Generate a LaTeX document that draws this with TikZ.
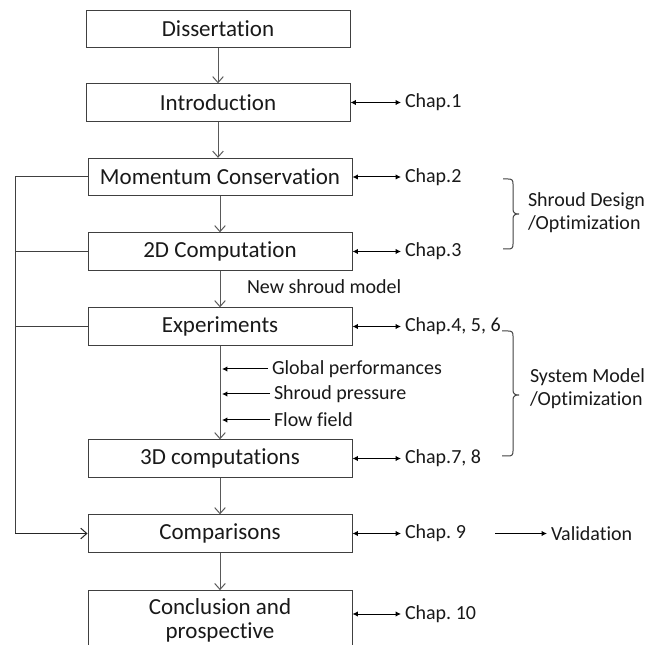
\documentclass[tikz,border=0pt]{standalone}
\usepackage{fontspec}
\setmainfont{Carlito}[Ligatures={NoCommon}]
\usetikzlibrary{arrows.meta}
\frenchspacing
\begin{document}
\begin{tikzpicture}[x=0.75pt,y=-0.75pt,
  box/.style={draw=black!75, line width=0.75pt, minimum width=198pt, minimum height=28pt, inner sep=0pt, font=\fontsize{17.25}{18}\selectfont, text=black!90},
  lbl/.style={font=\fontsize{15}{17.25}\selectfont, inner sep=0pt, outer sep=3pt, anchor=west, text=black!90},
  flow/.style={draw=black!65, line width=0.75pt, -{Straight Barb[length=4.5pt,width=8pt]}},
  dbl/.style={draw=black, line width=0.75pt, {Latex[length=4pt,width=4pt]}-{Latex[length=4pt,width=4pt]}},
  side/.style={draw=black, line width=0.75pt, -{Latex[length=4pt,width=4pt]}},
  feed/.style={draw=black!75, line width=0.75pt},
  brace/.style={draw=black!75, line width=0.75pt}
]
\useasboundingbox (0,0) rectangle (647,645);
\clip (0,0) rectangle (647,645);

% boxes
\node[box] (dis) at (218,29) {Dissertation};
\node[box] (intro) at (218,102.5) {Introduction};
\node[box] (mom) at (220,177) {Momentum Conservation};
\node[box] (c2d) at (220,251.5) {2D Computation};
\node[box] (exp) at (220,326.5) {Experiments};
\node[box] (c3d) at (220,458.5) {3D computations};
\node[box] (cmp) at (220,533.5) {Comparisons};
\node[box, minimum height=44pt, align=center] (con) at (220,620) {Conclusion and\\prospective};

% main flow
\draw[flow] (dis.south) -- (dis.south |- intro.north);
\draw[flow] (intro.south) -- (intro.south |- mom.north);
\draw[flow] (mom.south) -- (c2d.north);
\draw[flow] (c2d.south) -- (exp.north);
\draw[flow] (exp.south) -- (c3d.north);
\draw[flow] (c3d.south) -- (cmp.north);
\draw[flow] (cmp.south) -- (con.north);

\node[lbl] (nsm) at (243,287) {New shroud model};

% side inputs
\node[lbl] (gp) at (268,369) {Global performances};
\node[lbl] (sp) at (270,394) {Shroud pressure};
\node[lbl] (ff) at (270,420) {Flow field};
\coordinate (gpe) at (222,369);
\coordinate (spe) at (222,394);
\coordinate (ffe) at (222,420);
\draw[side] (gp.west) -- (gpe);
\draw[side] (sp.west) -- (spe);
\draw[side] (ff.west) -- (ffe);

% chapter labels
\node[lbl] (ch1) at (401,102.5) {Chap.1};
\node[lbl] (ch2) at (401,177) {Chap.2};
\node[lbl] (ch3) at (401,251.5) {Chap.3};
\node[lbl] (ch4) at (401,326.5) {Chap.4, 5, 6};
\node[lbl] (ch7) at (401,458.5) {Chap.7, 8};
\node[lbl] (ch9) at (401,533.5) {Chap. 9};
\node[lbl] (ch10) at (401,614) {Chap. 10};
\draw[dbl] (intro.east) -- (intro.east -| ch1.west);
\draw[dbl] (mom.east) -- (mom.east -| ch2.west);
\draw[dbl] (c2d.east) -- (c2d.east -| ch3.west);
\draw[dbl] (exp.east) -- (exp.east -| ch4.west);
\draw[dbl] (c3d.east) -- (c3d.east -| ch7.west);
\draw[dbl] (cmp.east) -- (cmp.east -| ch9.west);
\draw[dbl] (con.east |- ch10.west) -- (ch10.west);

% validation
\node[lbl] (val) at (547,533.5) {Validation};
\coordinate (vs) at (495,533.5);
\draw[side] (vs) -- (val.west);

% feedback
\coordinate (fbt) at (15,177);
\coordinate (fbb) at (15,533.5);
\draw[feed] (mom.west) -- (fbt) -- (fbb);
\draw[feed] (c2d.west) -- (c2d.west -| fbt);
\draw[feed] (exp.west) -- (exp.west -| fbt);
\draw[flow, draw=black!85] (fbb) -- (cmp.west);

% braces
\draw[brace] (503,179) -- (508,179) .. controls (512,179) and (513,180) .. (513,184) -- (513,209)
  .. controls (513,213) and (515,214) .. (519,214) .. controls (515,214) and (513,215) .. (513,219)
  -- (513,244) .. controls (513,248) and (512,249) .. (508,249) -- (503,249);
\node[lbl, align=left] (sdo) at (524,212.5) {Shroud Design\\/Optimization};

\draw[brace] (502,331) -- (508,331) .. controls (512,331) and (513,332) .. (513,336) -- (513,390)
  .. controls (513,394) and (515,395) .. (519,395) .. controls (515,395) and (513,396) .. (513,400)
  -- (513,451) .. controls (513,455) and (512,456) .. (508,456) -- (502,456);
\node[lbl, align=left] (smo) at (526,389) {System Model\\/Optimization};
\end{tikzpicture}
\end{document}
